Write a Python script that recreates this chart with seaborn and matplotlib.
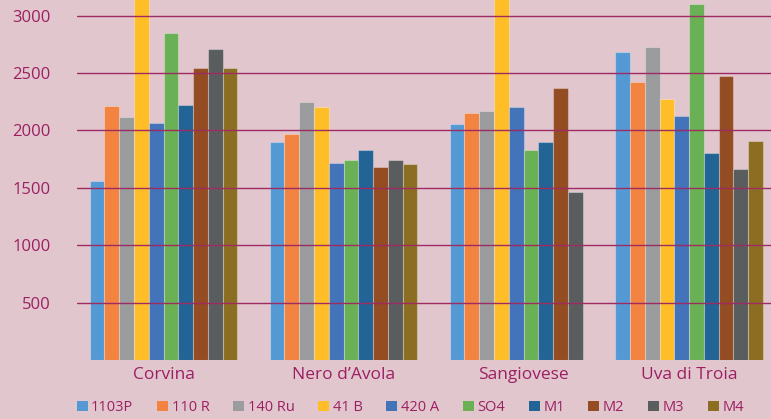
import matplotlib
matplotlib.use("Agg")
import matplotlib.pyplot as plt
import seaborn as sns
import pandas as pd
from matplotlib.patches import Patch

categories = ["Corvina", "Nero d\u2019Avola", "Sangiovese", "Uva di Troia"]
series = ["1103P", "110 R", "140 Ru", "41 B", "420 A", "SO4", "M1", "M2", "M3", "M4"]
values = {
    "1103P":  [1559, 1902, 2053, 2683],
    "110 R":  [2215, 1966, 2152, 2422],
    "140 Ru": [2114, 2247, 2169, 2726],
    "41 B":   [3400, 2204, 3400, 2271],
    "420 A":  [2067, 1719, 2204, 2128],
    "SO4":    [2846, 1742, 1829, 3101],
    "M1":     [2224, 1829, 1902, 1800],
    "M2":     [2541, 1678, 2369, 2474],
    "M3":     [2706, 1742, 1461, 1667],
    "M4":     [2541, 1705, None, 1908],
}
yticks = [500, 1000, 1500, 2000, 2500, 3000]

# layout (not data): horizontal slot of each category
cat_slot = [0.0, 1.0, 2.0, 2.92]
colors = ["#5599d4", "#f28340", "#9a9c9e", "#ffbe28", "#4373b8", "#6ab055",
          "#226496", "#944c22", "#5a5d5e", "#8c6e22"]

rows = []
for s in series:
    for c, pos, v in zip(categories, cat_slot, values[s]):
        if v is not None:
            rows.append({"cat": c, "pos": pos, "series": s, "value": v})
df = pd.DataFrame(rows)

bg = "#e2c6ce"
txt = "#9b2062"
grid = "#9e2c62"

sns.set_theme(style="white")
plt.rcParams["font.family"] = ["Open Sans", "DejaVu Sans"]

fig = plt.figure(figsize=(7.71, 4.19), dpi=100, facecolor=bg)
ax = fig.add_axes([0.1, 0.141, 0.9, 0.859])
ax.set_facecolor(bg)

sns.barplot(data=df, x="pos", y="value", hue="series", native_scale=True,
            hue_order=series, palette=colors, saturation=1, width=0.82 / 0.92, ax=ax,
            errorbar=None, legend=False, edgecolor=(1, 1, 1, 0.3), linewidth=0.8)

ax.set_ylim(0, 3136)
ax.set_xlim(-0.48, 3.375)
ax.set_xticks(cat_slot)
ax.set_xticklabels(categories)
ax.set_yticks(yticks)
ax.set_yticklabels([str(t) for t in yticks], color=txt, fontsize=12)
ax.tick_params(axis="y", length=0, pad=19)
ax.tick_params(axis="x", length=0, pad=5, labelsize=12.5, labelcolor=txt)
ax.set_xlabel("")
ax.set_ylabel("")
ax.set_axisbelow(False)
ax.yaxis.grid(True, color=grid, linewidth=1.0)
ax.xaxis.grid(False)
for sp in ax.spines.values():
    sp.set_visible(False)

handles = [Patch(facecolor=c, edgecolor="none", label=s) for s, c in zip(series, colors)]
fig.legend(handles=handles, loc="center", bbox_to_anchor=(0.532, 0.027), ncol=10,
           frameon=False, fontsize=10.5, handlelength=0.75, handleheight=0.75,
           handletextpad=0.25, columnspacing=1.62, labelcolor=txt)

fig.savefig("out.png", dpi=100, facecolor=bg)
